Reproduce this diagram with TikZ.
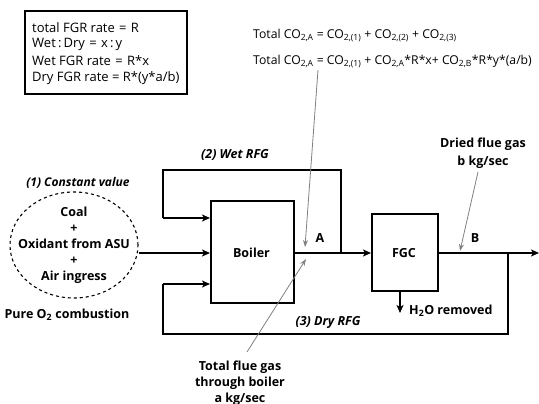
\documentclass[tikz,border=0pt]{standalone}
\usepackage{fontspec}
\setmainfont{Open Sans}
\usetikzlibrary{arrows.meta,shapes.geometric}
\begin{document}
\begin{tikzpicture}[x=1pt,y=-1pt,
  flow/.style={line width=2.2pt,-{Stealth[length=8pt,width=7pt,inset=2pt]}},
  line/.style={line width=2.2pt},
  pointer/.style={gray,line width=0.8pt,-{Stealth[length=7pt,width=5pt]}},
  box/.style={draw,line width=2.2pt,inner sep=0pt},
  lbl/.style={font=\bfseries\fontsize{12.5}{16}\selectfont,inner sep=0pt},
  ital/.style={font=\bfseries\itshape\fontsize{12.5}{14}\selectfont,inner sep=0pt},
  txt/.style={font=\fontsize{12.2}{16}\selectfont,inner sep=0pt,align=left},
  legtxt/.style={font=\fontsize{13}{16}\selectfont,inner sep=0pt,anchor=west}]
\useasboundingbox (0,0) rectangle (539,404);
% legend
\node[draw,line width=2pt,minimum width=162pt,minimum height=83pt,anchor=north west,inner sep=0pt] (legend) at (24,10) {};
\node[legtxt] (l1) at (32,28) {total FGR rate\,\,=\,\,R};
\node[legtxt] (l2) at (32,44) {Wet\,:\,Dry\,\,=\,\,x\,:\,y};
\node[legtxt] (l3) at (32,61) {Wet FGR rate\,\,=\,\,R*x};
\node[legtxt] (l4) at (32,78) {Dry FGR rate = R*(y*a/b)};
% equations
\node[txt,anchor=west] (eq1) at (253,36) {Total CO\textsubscript{2,A} = CO\textsubscript{2,(1)} + CO\textsubscript{2,(2)} + CO\textsubscript{2,(3)}};
\node[txt,anchor=west] (eq2) at (253,62) {Total CO\textsubscript{2,A} = CO\textsubscript{2,(1)} + CO\textsubscript{2,A}*R*x+ CO\textsubscript{2,B}*R*y*(a/b)};
% ellipse
\node[draw,dashed,line width=1.1pt,ellipse,minimum width=128pt,minimum height=106pt,inner sep=0pt] (fuel) at (74,245) {};
\node[lbl,align=center] (fueltxt) at (74,245) {Coal\\+\\Oxidant from ASU\\+\\Air ingress};
\node[ital,font=\bfseries\itshape\fontsize{12}{14}\selectfont] (c1) at (78,183) {(1) Constant value};
\node[lbl] (pure) at (67,315) {Pure O\textsubscript{2} combustion};
% boxes
\node[box,minimum width=83pt,minimum height=102pt,anchor=north west] (boiler) at (210,200) {};
\node[lbl] (boilertxt) at (251.5,253) {Boiler};
\node[box,minimum width=66pt,minimum height=77pt,anchor=north west] (fgc) at (371,213) {};
\node[lbl] (fgctxt) at (404,253) {FGC};
% coordinates
\coordinate (wsplit) at (341,253);
\coordinate (dsplit) at (508,253);
\coordinate (out) at (539,253);
\coordinate (wtl) at (163,170);
\coordinate (wtr) at (341,170);
\coordinate (wdl) at (163,218);
\coordinate (bi1) at (210,218);
\coordinate (bi2) at (210,253);
\coordinate (bi3) at (210,284);
\coordinate (dul) at (163,284);
\coordinate (dbl) at (163,334);
\coordinate (dbr) at (508,334);
\coordinate (h2oend) at (400,313);
% flows
\draw[flow] (fuel.east |- bi2) -- (bi2);
\draw[line] (boiler.east |- wsplit) -- (wsplit);
\draw[flow] (wsplit) -- (fgc.west |- wsplit);
\draw[flow] (fgc.east |- dsplit) -- (out);
\draw[line] (wsplit) -- (wtr) -- (wtl) -- (wdl);
\draw[flow] (wdl) -- (bi1);
\draw[line] (dsplit) -- (dbr) -- (dbl) -- (dul);
\draw[flow] (dul) -- (bi3);
\draw[flow] (fgc.south -| h2oend) -- (h2oend);
% labels
\node[ital] (wet) at (235,155) {(2) Wet RFG};
\node[ital] (dry) at (328,322) {(3) Dry RFG};
\node[lbl,anchor=west] (h2o) at (409,311) {H\textsubscript{2}O removed};
\node[lbl] (A) at (320,238) {A};
\node[lbl] (B) at (475,238) {B};
\node[lbl,align=center] (dried) at (483,153) {Dried flue gas\\[2pt]b kg/sec};
\node[lbl,align=center] (total) at (240,383) {Total flue gas\\through boiler\\a kg/sec};
% pointers
\coordinate (pA) at (305,247);
\coordinate (pA2) at (306,259);
\coordinate (pB) at (460,251);
\draw[pointer] (318,70) -- (pA);
\draw[pointer] (247,352) -- (pA2);
\draw[pointer] (478,172) -- (pB);
\end{tikzpicture}
\end{document}
